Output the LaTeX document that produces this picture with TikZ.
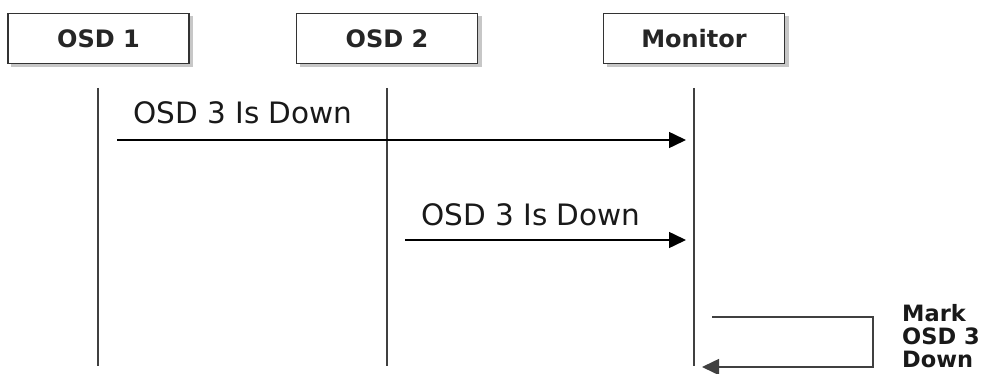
\documentclass[tikz,border=0pt]{standalone}
\usepackage{fontspec}
\setmainfont{DejaVu Sans}
\usetikzlibrary{arrows.meta}
\begin{document}
\begin{tikzpicture}[x=1pt,y=-1pt,
  actor/.style={draw=black!80, line width=1.6pt, fill=white, minimum width=181pt, minimum height=50pt, inner sep=0pt, font=\fontsize{24}{28}\selectfont\bfseries, text=black!85},
  shadowbox/.style={fill=black!22, draw=none, minimum width=182pt, minimum height=51pt},
  life/.style={draw=black!75, line width=1.3pt},
  msg/.style={draw=black, line width=1.5pt, -{Triangle[length=17pt,width=16pt]}},
  lbl/.style={font=\fontsize{29.5}{33}\selectfont, text=black!90, inner sep=0pt, anchor=west}]
\useasboundingbox (0,0) rectangle (988,374);
% shadows
\node[shadowbox] at (102,42) {};
\node[shadowbox] at (390.5,42) {};
\node[shadowbox] at (697.5,42) {};
% actors
\node[actor] (osd1) at (98.5,38.5) {OSD 1};
\node[actor] (osd2) at (387,38.5) {OSD 2};
\node[actor] (mon) at (694,38.5) {Monitor};
% lifelines
\coordinate (l1t) at (98,88); \coordinate (l1b) at (98,366);
\coordinate (l2t) at (387,88); \coordinate (l2b) at (387,366);
\coordinate (l3t) at (694,88); \coordinate (l3b) at (694,366);
\draw[life] (l1t) -- (l1b);
\draw[life] (l2t) -- (l2b);
\draw[life] (l3t) -- (l3b);
% message 1
\coordinate (m1s) at (117,140); \coordinate (m1e) at (686,140);
\draw[msg] (m1s) -- (m1e);
\node[lbl] (t1) at (133,113) {OSD 3 Is Down};
% message 2
\coordinate (m2s) at (405,240); \coordinate (m2e) at (686,240);
\draw[msg] (m2s) -- (m2e);
\node[lbl] (t2) at (421,215) {OSD 3 Is Down};
% self message
\coordinate (s1) at (712,317); \coordinate (s2) at (873,317);
\coordinate (s3) at (873,367); \coordinate (s4) at (702,367);
\draw[msg, draw=black!75] (s1) -- (s2) -- (s3) -- (s4);
\node[font=\fontsize{22.5}{23}\selectfont\bfseries, text=black!90, anchor=north west, align=left, inner sep=0pt] (t3) at (902,304) {Mark\\OSD 3\\Down};
\end{tikzpicture}
\end{document}
